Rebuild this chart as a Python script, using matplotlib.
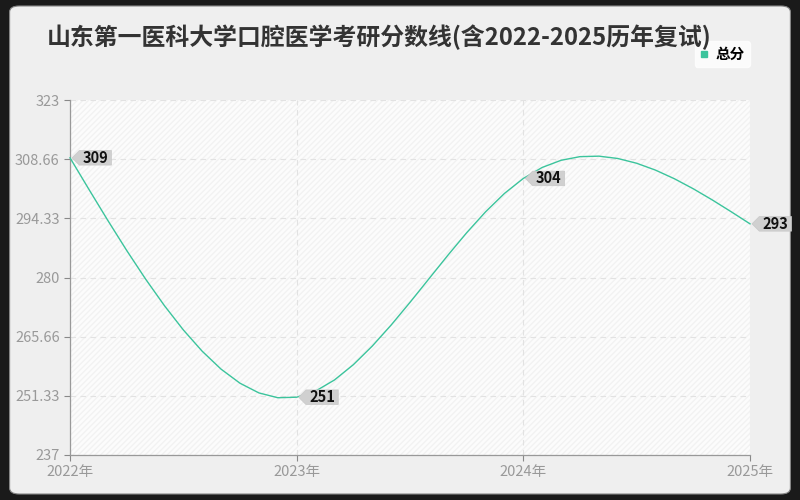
import numpy as np
import matplotlib
matplotlib.use('Agg')
import matplotlib.pyplot as plt
from matplotlib.path import Path
from matplotlib.patches import FancyBboxPatch, Rectangle

plt.rcParams['font.family'] = ['Noto Sans CJK SC', 'DejaVu Sans']

title = '山东第一医科大学口腔医学考研分数线(含2022-2025历年复试)'
years = [2022, 2023, 2024, 2025]
year_labels = ['2022年', '2023年', '2024年', '2025年']
scores = [309, 251, 304, 293]
series_name = '总分'
y_ticks = [237, 251.33, 265.66, 280, 294.33, 308.66, 323]
y_tick_labels = ['237', '251.33', '265.66', '280', '294.33', '308.66', '323']

line_color = '#3bc49c'
grey_text = '#999999'


def natural_spline(x, y, per_seg=12):
    # natural cubic spline through the points, sampled as a polyline
    x = np.asarray(x, float)
    y = np.asarray(y, float)
    n = len(x)
    h = np.diff(x)
    A = np.zeros((n, n))
    b = np.zeros(n)
    A[0, 0] = A[-1, -1] = 1
    for i in range(1, n - 1):
        A[i, i - 1] = h[i - 1]
        A[i, i] = 2 * (h[i - 1] + h[i])
        A[i, i + 1] = h[i]
        b[i] = 6 * ((y[i + 1] - y[i]) / h[i] - (y[i] - y[i - 1]) / h[i - 1])
    M = np.linalg.solve(A, b)
    xs, ys = [x[0]], [y[0]]
    for i in range(n - 1):
        t = np.linspace(0, 1, per_seg + 1)[1:]
        xx = x[i] + t * h[i]
        a = 1 - t
        yy = (a * y[i] + t * y[i + 1]
              + ((a ** 3 - a) * M[i] + (t ** 3 - t) * M[i + 1]) * h[i] ** 2 / 6)
        xs.extend(xx)
        ys.extend(yy)
    return np.array(xs), np.array(ys)


def tag_box(x0, y0, width, height, mutation_size):
    # grey tag with a pointed left side
    pad = 0.22 * mutation_size
    h = 1.0 * mutation_size
    cy = y0 + height / 2
    tip = h * 0.5
    left = x0 - pad - tip
    right = x0 + width + pad
    verts = [(left, cy), (left + tip, cy - h / 2), (right, cy - h / 2),
             (right, cy + h / 2), (left + tip, cy + h / 2), (left, cy)]
    codes = [Path.MOVETO] + [Path.LINETO] * 4 + [Path.CLOSEPOLY]
    return Path(verts, codes)


fig = plt.figure(figsize=(8, 5), dpi=100)
fig.patch.set_facecolor('#1a1a1a')
frame = FancyBboxPatch((0.012, 0.012), 0.976, 0.976,
                       boxstyle='round,pad=0,rounding_size=0.012',
                       transform=fig.transFigure, facecolor='#efefef',
                       edgecolor='#888888', linewidth=0.8, zorder=-10)
fig.add_artist(frame)

ax = fig.add_axes([70 / 800, 45 / 500, 680 / 800, 355 / 500])
ax.set_facecolor('#fcfcfc')
ax.add_patch(Rectangle((0, 0), 1, 1, transform=ax.transAxes, facecolor='none',
                       edgecolor='#f2f2f2', hatch='//////', linewidth=0, zorder=0))

ax.set_xlim(2022, 2025)
ax.set_ylim(237, 323)

sx, sy = natural_spline(years, scores)
ax.plot(sx, sy, color=line_color, linewidth=1.0, zorder=3, clip_on=False)

for xv, yv in zip(years, scores):
    ax.annotate(str(yv), (xv, yv), xytext=(9, 0), textcoords='offset points',
                ha='left', va='center', fontsize=10.5, fontweight='bold',
                color='#111111', zorder=5, annotation_clip=False,
                bbox=dict(boxstyle=tag_box, facecolor='#d0d0d0',
                          edgecolor='#c8c8c8', linewidth=0.5))

ax.set_xticks(years)
ax.set_xticklabels(year_labels)
ax.set_yticks(y_ticks)
ax.set_yticklabels(y_tick_labels)
ax.tick_params(axis='both', colors='#888888', labelcolor=grey_text,
               labelsize=10.5, length=4, width=0.8)
ax.grid(True, linestyle=(0, (5, 4)), color='#e2e2e2', linewidth=0.8)
ax.set_axisbelow(True)
for side in ['top', 'right']:
    ax.spines[side].set_visible(False)
for side in ['left', 'bottom']:
    ax.spines[side].set_color('#999999')
    ax.spines[side].set_linewidth(0.9)

fig.text(47 / 800, 1 - 37 / 500, title, fontsize=17.2, fontweight='bold',
         color='#333333', ha='left', va='center')

leg = ax.legend([plt.Line2D([], [], marker='s', color=line_color, linestyle='none',
                            markersize=5)],
                [series_name], loc='lower right', bbox_to_anchor=(1.0, 1.093),
                borderaxespad=0, frameon=True, fontsize=10.5, handlelength=0.6,
                handletextpad=0.5, borderpad=0.35, fancybox=True)
leg.get_frame().set_facecolor('white')
leg.get_frame().set_edgecolor('white')
for t in leg.get_texts():
    t.set_fontweight('bold')

fig.savefig('out.png', dpi=100, facecolor=fig.get_facecolor())
